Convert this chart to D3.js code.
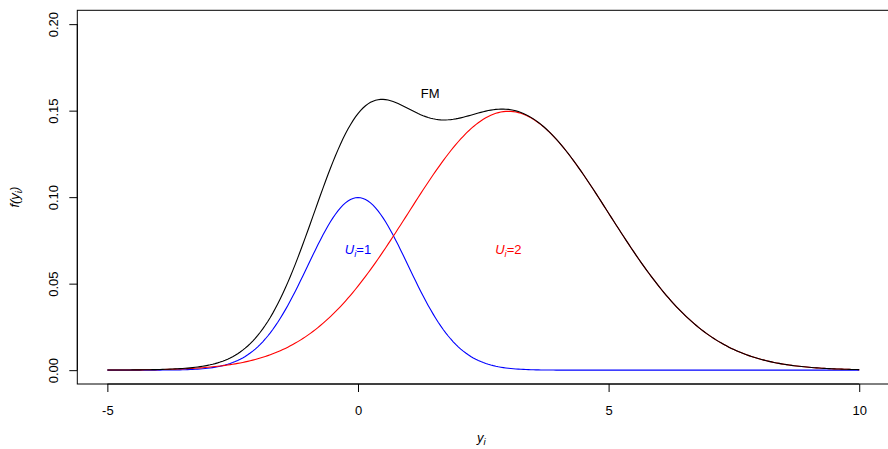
<!DOCTYPE html>
<html>
<head>
<meta charset="utf-8">
<script src="https://cdn.jsdelivr.net/npm/d3@7"></script>
<style>
  body { margin: 0; background: #fff; }
  svg { display: block; font-family: "Liberation Sans", Arial, sans-serif; }
</style>
</head>
<body>
<svg id="chart" width="888" height="449"></svg>
<script>
// Two-component normal mixture: component parameters
const components = ["1", "2"];
const compMeans = [0, 3];
const compSDs = [1, 2];
const compWeights = [0.25, 0.75];
const compColors = ["blue", "red"];

const xTicks = [-5, 0, 5, 10];
const yTicks = [0, 0.05, 0.10, 0.15, 0.20];
const yGrid = { from: -5, to: 10, n: 301 };

const svg = d3.select("#chart");
const plot = { left: 77.3, right: 889.3, top: 10.3, bottom: 384 };

const x = d3.scaleLinear().domain([-5.6, 10.6]).range([plot.left, plot.right]);
const y = d3.scaleLinear().domain([-0.008, 0.208]).range([plot.bottom, plot.top]);

const dnorm = (v, m, s) => Math.exp(-0.5 * ((v - m) / s) ** 2) / (s * Math.sqrt(2 * Math.PI));
const grid = d3.range(yGrid.n).map(i => yGrid.from + (yGrid.to - yGrid.from) * i / (yGrid.n - 1));

const compDens = components.map((c, k) =>
  grid.map(v => ({ x: v, y: compWeights[k] * dnorm(v, compMeans[k], compSDs[k]) })));
const mixDens = grid.map((v, i) => ({ x: v, y: d3.sum(compDens, d => d[i].y) }));

const line = d3.line().x(d => x(d.x)).y(d => y(d.y));

// frame
svg.append("rect")
  .attr("x", plot.left).attr("y", plot.top)
  .attr("width", plot.right - plot.left).attr("height", plot.bottom - plot.top)
  .attr("fill", "none").attr("stroke", "#000").attr("stroke-width", 1);

// axes
const xAxis = d3.axisBottom(x).tickValues(xTicks).tickSize(8).tickPadding(6).tickFormat(d => String(d));
const gx = svg.append("g").attr("transform", `translate(0,${plot.bottom})`).call(xAxis);
gx.select(".domain").attr("d", `M${x(xTicks[0])},0H${x(xTicks[xTicks.length - 1])}`);
gx.selectAll("text").attr("font-size", 13).attr("font-family", "Liberation Sans, Arial, sans-serif")
  .attr("fill", "#000").attr("dy", null).attr("y", 31);

const yAxis = d3.axisLeft(y).tickValues(yTicks).tickSize(8).tickFormat(d3.format(".2f"));
const gy = svg.append("g").attr("transform", `translate(${plot.left},0)`).call(yAxis);
gy.select(".domain").attr("d", `M0,${y(yTicks[0])}V${y(yTicks[yTicks.length - 1])}`);
gy.selectAll(".tick text")
  .attr("font-size", 13).attr("font-family", "Liberation Sans, Arial, sans-serif").attr("fill", "#000")
  .attr("x", null).attr("dy", null)
  .attr("text-anchor", "middle")
  .attr("transform", "translate(-19,0) rotate(-90)");

// component curves, then the mixture density on top
compDens.forEach((d, k) => {
  svg.append("path").datum(d).attr("d", line)
    .attr("fill", "none").attr("stroke", compColors[k]).attr("stroke-width", 1.1);
});
svg.append("path").datum(mixDens).attr("d", line)
  .attr("fill", "none").attr("stroke", "#000").attr("stroke-width", 1.1);

// in-plot labels
svg.append("text").attr("x", x(1.44)).attr("y", y(0.16) + 5)
  .attr("text-anchor", "middle").attr("font-size", 13).text("FM");

function uLabel(k, xv, yv) {
  const t = svg.append("text").attr("x", x(xv)).attr("y", y(yv) + 5)
    .attr("text-anchor", "middle").attr("font-size", 13).attr("fill", compColors[k]);
  t.append("tspan").attr("font-style", "italic").text("U");
  t.append("tspan").attr("font-style", "italic").attr("font-size", 9.5).attr("dy", 3).text("i");
  t.append("tspan").attr("dy", -3).text("=" + components[k]);
}
uLabel(0, 0.0, 0.07);
uLabel(1, 3.0, 0.07);

// axis titles
const xt = svg.append("text").attr("x", (plot.left + plot.right) / 2 - 2).attr("y", 442)
  .attr("text-anchor", "middle").attr("font-size", 13).attr("font-style", "italic");
xt.append("tspan").text("y");
xt.append("tspan").attr("font-size", 9.5).attr("dy", 3).text("i");

const yt = svg.append("text")
  .attr("transform", `translate(19,${(plot.top + plot.bottom) / 2}) rotate(-90)`)
  .attr("text-anchor", "middle").attr("font-size", 13).attr("font-style", "italic");
yt.append("tspan").text("f(y");
yt.append("tspan").attr("font-size", 9.5).attr("dy", 3).text("i");
yt.append("tspan").attr("dy", -3).text(")");
</script>
</body>
</html>
